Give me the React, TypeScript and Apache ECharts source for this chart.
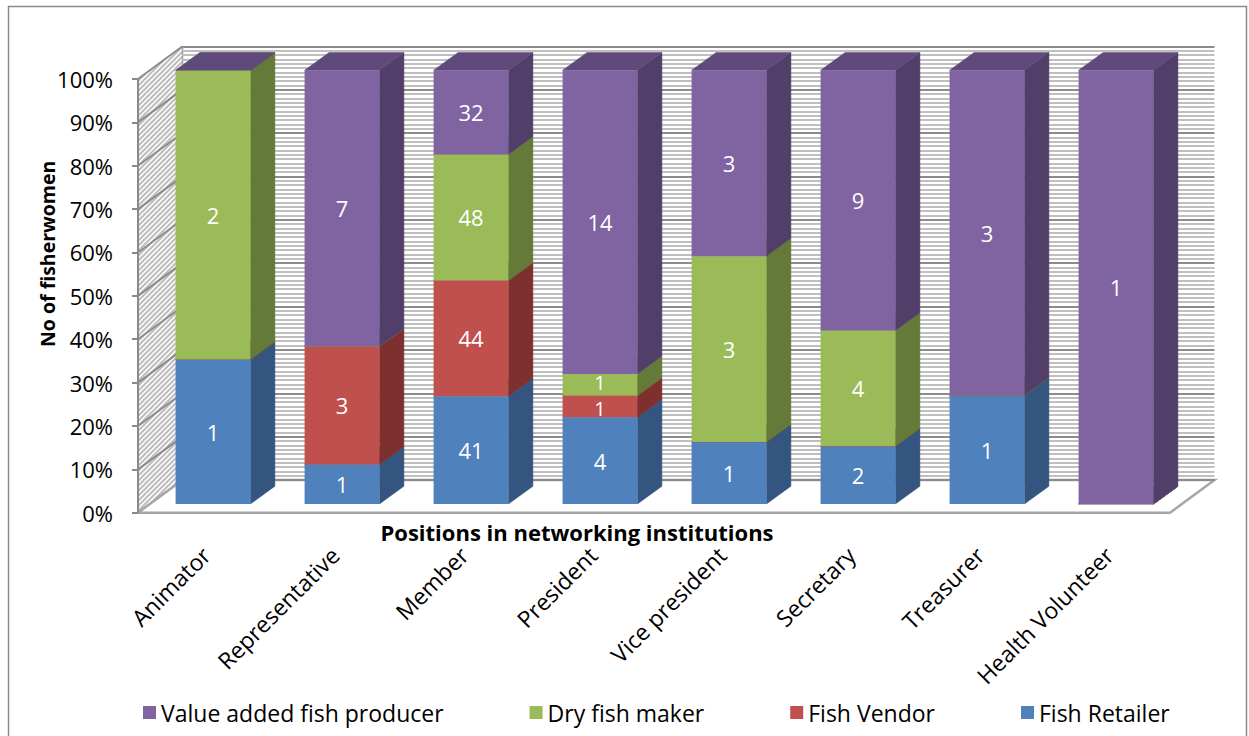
import React, { useEffect, useRef } from 'react';
import * as echarts from 'echarts';

// Positions held by fisherwomen and the number in each occupation
const categories = [
  'Animator',
  'Representative',
  'Member',
  'President',
  'Vice president',
  'Secretary',
  'Treasurer',
  'Health Volunteer',
];
const fishRetailer = [1, 1, 41, 4, 1, 2, 1, 0];
const fishVendor = [0, 3, 44, 1, 0, 0, 0, 0];
const dryFishMaker = [2, 0, 48, 1, 3, 4, 0, 0];
const valueAddedProducer = [0, 7, 32, 14, 3, 9, 3, 1];

const legendOrder = ['Value added fish producer', 'Dry fish maker', 'Fish Vendor', 'Fish Retailer'];

const FONT = '"Open Sans", "DejaVu Sans", sans-serif';

// Stack order bottom -> top, with the three shades of each 3D column
const seriesDefs = [
  { name: 'Fish Retailer', values: fishRetailer, front: '#4F81BD', side: '#34557F', top: '#3F6797' },
  { name: 'Fish Vendor', values: fishVendor, front: '#C0504D', side: '#7E302F', top: '#99403D' },
  { name: 'Dry fish maker', values: dryFishMaker, front: '#9BBB59', side: '#647A38', top: '#7C9747' },
  { name: 'Value added fish producer', values: valueAddedProducer, front: '#8064A2', side: '#513F69', top: '#604A7B' },
];

// 3D box layout (front plane, depth vector, column plane)
const W = 1249;
const H = 736;
const FRONT = { left: 138, right: 1170, top: 79, bottom: 512.7 };
const DEPTH = { dx: 44.5, dy: -32.7 };
const BAR_SHIFT = { dx: 10.5, dy: -8.7 };
const BAR_DEPTH = { dx: 24.5, dy: -17.8 };
const BAR_RATIO = 0.58;
const LABEL_FONT = 22;
const SMALL_LABEL_FONT = 20;

function buildOption() {
  const plotW = FRONT.right - FRONT.left;
  const plotH = FRONT.bottom - FRONT.top;
  const pxPerPct = plotH / 100;

  // 100% stacking: [lo%, hi%] of every segment
  const totals = categories.map((_, i) => seriesDefs.reduce((s, d) => s + d.values[i], 0));
  const running = categories.map(() => 0);
  const spans = seriesDefs.map((def) =>
    categories.map((_, i) => {
      const lo = (running[i] / totals[i]) * 100;
      running[i] += def.values[i];
      const hi = (running[i] / totals[i]) * 100;
      return [lo, hi];
    })
  );

  // Label font per segment and small vertical nudges so that labels of thin
  // neighbouring segments do not run into each other
  const labelFont = seriesDefs.map((def, s) =>
    categories.map((_, i) => {
      const hPx = (spans[s][i][1] - spans[s][i][0]) * pxPerPct;
      return hPx < 24 ? SMALL_LABEL_FONT : LABEL_FONT;
    })
  );
  const labelNudge = seriesDefs.map(() => categories.map(() => 0));
  categories.forEach((_, i) => {
    const labelled = seriesDefs
      .map((def, s) => ({ s, count: def.values[i] }))
      .filter((e) => e.count > 0)
      .map((e) => e.s);
    for (let n = 0; n + 1 < labelled.length; n++) {
      const a = labelled[n];
      const b = labelled[n + 1];
      const ca = ((spans[a][i][0] + spans[a][i][1]) / 2) * pxPerPct;
      const cb = ((spans[b][i][0] + spans[b][i][1]) / 2) * pxPerPct;
      const need = ((labelFont[a][i] + labelFont[b][i]) / 2) * 1.3;
      const gap = cb - ca;
      if (gap < need) {
        const d = (need - gap) / 2;
        labelNudge[a][i] += d; // lower label moves down
        labelNudge[b][i] -= d; // upper label moves up
      }
    }
  });

  const customSeries = seriesDefs.map((def, s) => {
    const data = categories.map((_, i) => [i, spans[s][i][0], spans[s][i][1], def.values[i]]);
    return {
      type: 'custom',
      name: def.name,
      xAxisIndex: 1,
      yAxisIndex: 1,
      clip: false,
      itemStyle: { color: def.front },
      encode: { x: 0, y: 2 },
      data,
      renderItem: (_params: any, api: any) => {
        const cat = api.value(0);
        const lo = api.value(1);
        const hi = api.value(2);
        const count = api.value(3);
        const pLo = api.coord([cat, lo]);
        const pHi = api.coord([cat, hi]);
        const band = api.size([1, 0])[0];
        const w = band * BAR_RATIO;
        const xl = pLo[0] - w / 2;
        const xr = pLo[0] + w / 2;
        const yb = pLo[1];
        const yt = pHi[1];
        const { dx, dy } = BAR_DEPTH;
        const children: any[] = [
          {
            type: 'polygon',
            shape: { points: [[xr, yb], [xr + dx, yb + dy], [xr + dx, yt + dy], [xr, yt]] },
            style: { fill: def.side, stroke: def.side, lineWidth: 0.5 },
          },
          {
            type: 'polygon',
            shape: { points: [[xl, yt], [xr, yt], [xr + dx, yt + dy], [xl + dx, yt + dy]] },
            style: { fill: def.top, stroke: def.top, lineWidth: 0.5 },
          },
          {
            type: 'rect',
            shape: { x: xl, y: yt, width: w, height: yb - yt },
            style: { fill: def.front },
          },
        ];
        if (count > 0) {
          children.push({
            type: 'text',
            style: {
              text: String(count),
              x: (xl + xr) / 2,
              y: (yt + yb) / 2 + labelNudge[s][cat],
              fill: '#ffffff',
              fontSize: labelFont[s][cat],
              fontFamily: FONT,
              align: 'center',
              verticalAlign: 'middle',
            },
          });
        }
        return { type: 'group', children };
      },
    };
  });

  // Side wall: hatch + gridlines, floor slab
  const k = -DEPTH.dy / DEPTH.dx;
  const slope = 1 - k;
  const hatch: any[] = [];
  for (let c = FRONT.top + 2; c < FRONT.bottom + DEPTH.dx; c += 5) {
    const t0 = Math.max(0, (c - FRONT.bottom) / slope);
    const t1 = Math.min(DEPTH.dx, (c - FRONT.top) / slope);
    if (t1 <= t0) continue;
    hatch.push({
      type: 'line',
      shape: { x1: FRONT.left + t0, y1: c - t0, x2: FRONT.left + t1, y2: c - t1 },
      style: { stroke: '#bdbdbd', lineWidth: 2 },
      silent: true,
    });
  }
  const sideGrid: any[] = [];
  for (let v = 0; v <= 100; v += 10) {
    const y = FRONT.bottom - (v / 100) * plotH;
    sideGrid.push({
      type: 'line',
      shape: { x1: FRONT.left, y1: y, x2: FRONT.left + DEPTH.dx, y2: y + DEPTH.dy },
      style: { stroke: '#8c8c8c', lineWidth: 2 },
      silent: true,
    });
  }

  const graphic: any[] = [
    {
      type: 'rect',
      shape: { x: 8.5, y: 6.5, width: 1238, height: 745 },
      style: { fill: 'none', stroke: '#8a8a8a', lineWidth: 1.5 },
      silent: true,
      z: -10,
    },
    {
      type: 'polygon',
      shape: {
        points: [
          [FRONT.left, FRONT.bottom],
          [FRONT.left + DEPTH.dx, FRONT.bottom + DEPTH.dy],
          [FRONT.left + DEPTH.dx, FRONT.top + DEPTH.dy],
          [FRONT.left, FRONT.top],
        ],
      },
      style: { fill: '#ffffff' },
      silent: true,
    },
    ...hatch,
    ...sideGrid,
    {
      type: 'line',
      shape: {
        x1: FRONT.left + DEPTH.dx,
        y1: FRONT.top + DEPTH.dy,
        x2: FRONT.left + DEPTH.dx,
        y2: FRONT.bottom + DEPTH.dy,
      },
      style: { stroke: '#a0a0a0', lineWidth: 1.5 },
      silent: true,
    },
    {
      type: 'polygon',
      shape: {
        points: [
          [FRONT.left, FRONT.bottom],
          [FRONT.right, FRONT.bottom],
          [FRONT.right + DEPTH.dx, FRONT.bottom + DEPTH.dy],
          [FRONT.left + DEPTH.dx, FRONT.bottom + DEPTH.dy],
        ],
      },
      style: { fill: '#ffffff', stroke: '#a6a6a6', lineWidth: 2.5 },
      silent: true,
    },
    {
      type: 'text',
      x: 47,
      y: 347,
      rotation: Math.PI / 2,
      style: {
        text: 'No of fisherwomen',
        fill: '#000',
        fontSize: 19.5,
        fontWeight: 'bold',
        fontFamily: FONT,
        align: 'left',
        verticalAlign: 'middle',
      },
    },
    {
      type: 'text',
      x: 577,
      y: 532,
      style: {
        text: 'Positions in networking institutions',
        fill: '#000',
        fontSize: 22,
        fontWeight: 'bold',
        fontFamily: FONT,
        align: 'center',
        verticalAlign: 'middle',
      },
    },
  ];

  const gridBox = (dx: number, dy: number) => ({
    left: FRONT.left + dx,
    top: FRONT.top + dy,
    width: plotW,
    height: plotH,
    containLabel: false,
    outerBoundsMode: 'none',
  });

  return {
    animation: false,
    backgroundColor: '#ffffff',
    textStyle: { fontFamily: FONT },
    grid: [
      gridBox(0, 0), // front plane: value axis
      gridBox(BAR_SHIFT.dx, BAR_SHIFT.dy), // column plane
      gridBox(DEPTH.dx, DEPTH.dy), // back wall
    ],
    xAxis: [
      { type: 'category', gridIndex: 0, data: categories, show: false },
      {
        type: 'category',
        gridIndex: 1,
        data: categories,
        axisLine: { show: false },
        axisTick: { show: false },
        axisLabel: {
          rotate: 45,
          margin: 54,
          fontSize: 23,
          lineHeight: 20,
          verticalAlign: 'bottom',
          color: '#000',
          fontFamily: FONT,
          interval: 0,
        },
      },
      { type: 'category', gridIndex: 2, data: categories, show: false },
    ],
    yAxis: [
      {
        type: 'value',
        gridIndex: 0,
        min: 0,
        max: 100,
        interval: 10,
        axisLine: { show: true, lineStyle: { color: '#8a8a8a', width: 2 } },
        axisTick: { show: true, length: 6, lineStyle: { color: '#8a8a8a', width: 2 } },
        axisLabel: { formatter: '{value}%', margin: 25, fontSize: 22, color: '#000', fontFamily: FONT },
        splitLine: { show: false },
      },
      { type: 'value', gridIndex: 1, min: 0, max: 100, show: false },
      {
        type: 'value',
        gridIndex: 2,
        min: 0,
        max: 100,
        interval: 10,
        axisLine: { show: false },
        axisTick: { show: false },
        axisLabel: { show: false },
        splitLine: { show: true, lineStyle: { color: '#8c8c8c', width: 2 } },
        minorTick: { show: false, splitNumber: 10 },
        minorSplitLine: { show: true, lineStyle: { color: '#bfbfbf', width: 2 } },
      },
    ],
    legend: {
      data: legendOrder,
      left: 138,
      top: 696,
      icon: 'rect',
      itemWidth: 13,
      itemHeight: 13,
      itemGap: 86,
      textStyle: { fontSize: 23, color: '#000', fontFamily: FONT },
    },
    graphic,
    series: customSeries,
  };
}

export default function App() {
  const ref = useRef<HTMLDivElement>(null);
  useEffect(() => {
    if (!ref.current) return;
    const chart = echarts.init(ref.current, null, { renderer: 'svg' });
    chart.setOption(buildOption() as any);
    return () => chart.dispose();
  }, []);
  return (
    <div
      ref={ref}
      style={{ position: 'absolute', left: 0, top: 0, width: W, height: H, background: '#fff' }}
    />
  );
}
